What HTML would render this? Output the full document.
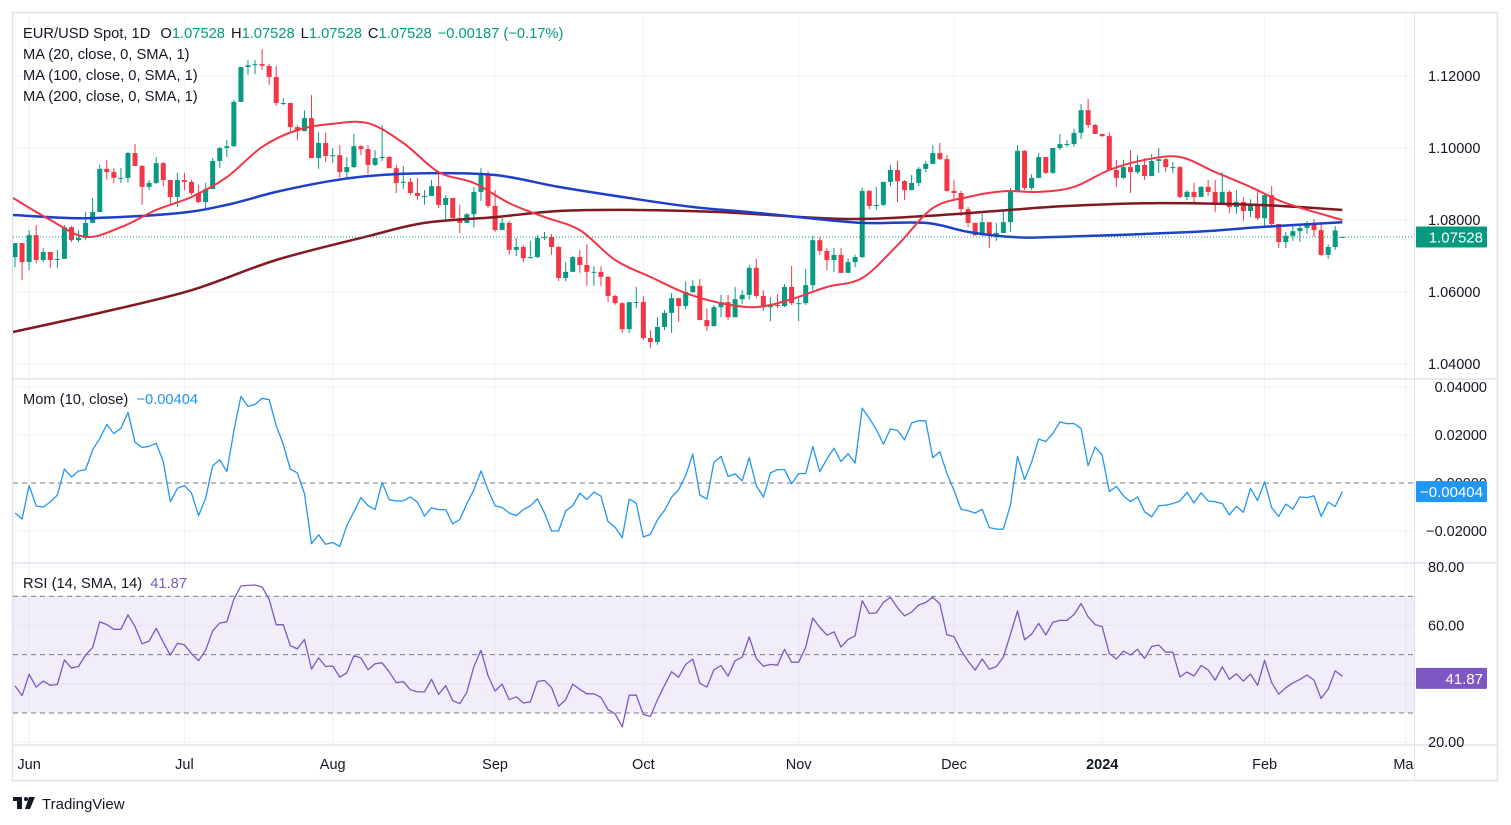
<!DOCTYPE html>
<html><head><meta charset="utf-8"><title>EUR/USD</title>
<style>
html,body{margin:0;padding:0;background:#fff;}
svg{display:block;font-family:"Liberation Sans",sans-serif;}
</style></head>
<body>
<svg id="chart" width="1511" height="825" viewBox="0 0 1511 825" xmlns="http://www.w3.org/2000/svg">
<defs>
<clipPath id="plotClip"><rect x="13" y="13" width="1401" height="732"/></clipPath>
<clipPath id="axisClip"><rect x="13" y="745" width="1401" height="35"/></clipPath>
</defs>
<rect x="0" y="0" width="1511" height="825" fill="#ffffff"/>
<rect x="12.5" y="12.5" width="1485" height="768" fill="none" stroke="#e0e3eb" stroke-width="1.5"/>
<g id="grid"></g>
<g id="rsiBand"></g>
<g id="plot" clip-path="url(#plotClip)"></g>
<g id="axes"></g>
<g font-size="14.7">
<text x="23" y="38" fill="#131722">EUR/USD Spot, 1D <tspan dx="6">O</tspan><tspan fill="#089981">1.07528</tspan><tspan dx="6">H</tspan><tspan fill="#089981">1.07528</tspan><tspan dx="6">L</tspan><tspan fill="#089981">1.07528</tspan><tspan dx="6">C</tspan><tspan fill="#089981">1.07528</tspan><tspan dx="6" fill="#089981">−0.00187 (−0.17%)</tspan></text>
<text x="23" y="59" fill="#131722">MA (20, close, 0, SMA, 1)</text>
<text x="23" y="80" fill="#131722">MA (100, close, 0, SMA, 1)</text>
<text x="23" y="101" fill="#131722">MA (200, close, 0, SMA, 1)</text>
<text x="23" y="404" fill="#131722">Mom (10, close) <tspan dx="4" fill="#2196f3">−0.00404</tspan></text>
<text x="23" y="588" fill="#131722">RSI (14, SMA, 14) <tspan dx="4" fill="#7e57c2">41.87</tspan></text>
</g>
<g>
<rect x="13" y="797" width="9" height="4" fill="#131722"/>
<rect x="17" y="797" width="5" height="12" fill="#131722"/>
<circle cx="26" cy="799" r="2" fill="#131722"/>
<polygon points="29,797 35,797 30,809 25,809" fill="#131722"/>
<text x="42" y="809" font-size="15" fill="#131722">TradingView</text>
</g>
</svg>
<script>
// ---------- DATA ----------
const priorCloses = [1.0861,1.0833,1.0768,1.0785,1.0811,1.0768,1.0742,1.0722,1.0719,1.0700];
const rsiSeedGain = 0.0027;
const rsiSeedLoss = 0.0036;
const closes = [
1.0736,1.0683,1.0758,1.0689,1.0711,1.0689,1.0692,1.0780,1.0744,1.0750,
1.0792,1.0822,1.0942,1.0933,1.0917,1.0917,1.0986,1.0950,1.0892,1.0903,
1.0958,1.0911,1.0864,1.0911,1.0906,1.0875,1.0850,1.0886,1.0964,1.1000,
1.1005,1.1128,1.1225,1.1230,1.1233,1.1228,1.1197,1.1125,1.1125,1.1058,
1.1047,1.1083,1.0972,1.1014,1.0978,1.0980,1.0933,1.0947,1.1005,1.0997,
1.0953,1.0972,1.0975,1.0944,1.0903,1.0906,1.0875,1.0867,1.0867,1.0894,
1.0842,1.0861,1.0805,1.0792,1.0816,1.0878,1.0925,1.0839,1.0772,1.0792,
1.0717,1.0725,1.0694,1.0697,1.0750,1.0753,1.0725,1.0639,1.0656,1.0697,
1.0675,1.0656,1.0656,1.0642,1.0589,1.0569,1.0497,1.0572,1.0572,1.0472,
1.0461,1.0503,1.0542,1.0583,1.0561,1.0600,1.0617,1.0522,1.0505,1.0558,
1.0572,1.0530,1.0580,1.0592,1.0667,1.0589,1.0558,1.0564,1.0561,1.0614,
1.0569,1.0569,1.0619,1.0744,1.0714,1.0689,1.0703,1.0653,1.0683,1.0697,
1.0881,1.0839,1.0842,1.0906,1.0939,1.0908,1.0883,1.0903,1.0942,1.0956,
1.0986,1.0969,1.0881,1.0875,1.0830,1.0792,1.0758,1.0794,1.0756,1.0764,
1.0794,1.0878,1.0992,1.0889,1.0917,1.0975,1.0931,1.1000,1.1011,1.1011,
1.1042,1.1105,1.1064,1.1039,1.1033,1.0939,1.0917,1.0947,1.0933,1.0953,
1.0922,1.0964,1.0969,1.0947,1.0947,1.0864,1.0878,1.0864,1.0892,1.0878,
1.0844,1.0878,1.0836,1.0850,1.0825,1.0842,1.0805,1.0869,1.0789,1.0739,
1.0756,1.0769,1.0778,1.0789,1.0772,1.0703,1.0725,1.0771,1.0753];
const highs = [
1.0736,1.0736,1.0772,1.0786,1.0722,1.0711,1.0717,1.0786,1.0783,1.0772,
1.0822,1.0861,1.0953,1.0967,1.0944,1.0944,1.0989,1.1011,1.0953,1.0911,
1.0975,1.0961,1.0911,1.0931,1.0931,1.0911,1.0897,1.0903,1.0972,1.1003,
1.1022,1.1133,1.1225,1.1244,1.1244,1.1275,1.1233,1.1228,1.1139,1.1125,
1.1064,1.1105,1.1147,1.1044,1.1042,1.1000,1.1008,1.0975,1.1039,1.1008,
1.1008,1.0994,1.1064,1.0978,1.0953,1.0950,1.0917,1.0917,1.0883,1.0911,
1.0928,1.0869,1.0839,1.0842,1.0819,1.0892,1.0944,1.0936,1.0883,1.0805,
1.0797,1.0750,1.0730,1.0742,1.0758,1.0767,1.0761,1.0728,1.0683,1.0700,
1.0717,1.0733,1.0672,1.0672,1.0644,1.0592,1.0572,1.0572,1.0614,1.0589,
1.0494,1.0530,1.0550,1.0597,1.0583,1.0630,1.0633,1.0636,1.0555,1.0564,
1.0592,1.0592,1.0614,1.0605,1.0675,1.0692,1.0605,1.0586,1.0594,1.0622,
1.0672,1.0586,1.0664,1.0756,1.0753,1.0722,1.0722,1.0722,1.0694,1.0703,
1.0889,1.0883,1.0892,1.0906,1.0953,1.0964,1.0911,1.0925,1.0947,1.0964,
1.1008,1.1014,1.0980,1.0911,1.0881,1.0836,1.0792,1.0817,1.0794,1.0792,
1.0825,1.0889,1.1008,1.0994,1.0928,1.0986,1.0975,1.1000,1.1039,1.1022,
1.1053,1.1122,1.1136,1.1067,1.1036,1.1044,1.0967,1.0967,1.0994,1.0980,
1.0972,1.0983,1.1000,1.0972,1.0961,1.0950,1.0883,1.0903,1.0894,1.0911,
1.0911,1.0933,1.0883,1.0883,1.0864,1.0858,1.0886,1.0872,1.0894,1.0789,
1.0767,1.0783,1.0786,1.0797,1.0803,1.0794,1.0733,1.0783,1.0753];
const lows = [
1.0669,1.0633,1.0661,1.0680,1.0683,1.0667,1.0667,1.0694,1.0739,1.0739,
1.0744,1.0792,1.0822,1.0911,1.0903,1.0903,1.0903,1.0950,1.0842,1.0883,
1.0900,1.0894,1.0842,1.0836,1.0883,1.0869,1.0847,1.0830,1.0886,1.0944,
1.0975,1.1003,1.1128,1.1203,1.1205,1.1217,1.1175,1.1117,1.1119,1.1047,
1.1022,1.1047,1.0972,1.0942,1.0961,1.0958,1.0917,1.0917,1.0944,1.0980,
1.0928,1.0950,1.0964,1.0944,1.0875,1.0886,1.0869,1.0855,1.0842,1.0867,
1.0833,1.0800,1.0805,1.0764,1.0792,1.0780,1.0853,1.0833,1.0767,1.0772,
1.0703,1.0700,1.0683,1.0694,1.0694,1.0744,1.0703,1.0630,1.0630,1.0656,
1.0653,1.0617,1.0617,1.0617,1.0572,1.0564,1.0486,1.0486,1.0555,1.0467,
1.0444,1.0453,1.0494,1.0486,1.0517,1.0553,1.0597,1.0522,1.0492,1.0505,
1.0530,1.0522,1.0530,1.0567,1.0578,1.0583,1.0547,1.0519,1.0555,1.0558,
1.0564,1.0519,1.0564,1.0605,1.0703,1.0661,1.0656,1.0656,1.0656,1.0669,
1.0694,1.0830,1.0828,1.0839,1.0894,1.0850,1.0855,1.0883,1.0894,1.0933,
1.0956,1.0967,1.0878,1.0853,1.0811,1.0780,1.0756,1.0756,1.0722,1.0742,
1.0764,1.0767,1.0878,1.0883,1.0883,1.0917,1.0928,1.0928,1.0994,1.1003,
1.1003,1.1025,1.1055,1.1039,1.1031,1.0936,1.0892,1.0914,1.0875,1.0928,
1.0911,1.0922,1.0931,1.0933,1.0931,1.0861,1.0855,1.0847,1.0864,1.0867,
1.0822,1.0842,1.0819,1.0817,1.0797,1.0808,1.0800,1.0780,1.0778,1.0722,
1.0722,1.0742,1.0739,1.0761,1.0753,1.0700,1.0692,1.0717,1.0753];
const firstOpen = 1.0697;
const lastOpen = 1.0753;
const lastPrice = 1.07528;

const ma20Idx = [0,5,10,15,20,25,30,35,40,45,50,55,60,65,70,75,80,85,90,95,100,105,110,115,120,125,130,135,140,145,150,155,160,165,170,175,180,188];
const ma20Val = [1.0861,1.0800,1.0753,1.0780,1.0828,1.0864,1.0919,1.1003,1.1050,1.1067,1.1069,1.1014,1.0933,1.0903,1.0847,1.0808,1.0772,1.0689,1.0642,1.0597,1.0569,1.0558,1.0580,1.0614,1.0639,1.0730,1.0833,1.0864,1.0880,1.0878,1.0892,1.0939,1.0967,1.0975,1.0933,1.0892,1.0847,1.0800];
const ma100Idx = [0,10,23,30,37,44,50,58,68,77,87,96,104,111,120,129,135,141,148,167,176,188];
const ma100Val = [1.0814,1.0805,1.0819,1.0842,1.0878,1.0906,1.0922,1.0930,1.0925,1.0892,1.0861,1.0836,1.0822,1.0808,1.0792,1.0792,1.0767,1.0753,1.0753,1.0767,1.0780,1.0794];
const ma200Idx = [0,12,25,37,50,58,68,77,87,100,117,129,141,149,162,176,188];
const ma200Val = [1.0489,1.0542,1.0605,1.0689,1.0755,1.0792,1.0808,1.0825,1.0828,1.0822,1.0803,1.0811,1.0828,1.0839,1.0847,1.0842,1.0828];

const monthLabels = ["Jun","Jul","Aug","Sep","Oct","Nov","Dec","2024","Feb","Mar"];
const monthBarIdx = [2,24,45,68,89,111,133,154,177,197];
const priceTicks = [1.04,1.06,1.08,1.10,1.12];
const priceTickLabels = ["1.04000","1.06000","1.08000","1.10000","1.12000"];
const momTicks = [0.04,0.02,0,-0.02];
const momTickLabels = ["0.04000","0.02000","0.00000","−0.02000"];
const rsiTicks = [80,60,20];
const rsiTickLabels = ["80.00","60.00","20.00"];
const rsiGrid = [80,60,40,20];
const rsiBands = [70,50,30];

// ---------- SCALES ----------
const NS = "http://www.w3.org/2000/svg";
const X0 = 15, STEP = 7.06;
function xAt(i){ return X0 + i*STEP; }
function yPrice(p){ return 76 + (1.12 - p)*3600; }
function yMom(m){ return 483 - m*2400; }
function yRsi(r){ return 713 - (r-30)*2.92; }
function mk(tag, attrs, parent){
  const e = document.createElementNS(NS, tag);
  for (const k in attrs) e.setAttribute(k, attrs[k]);
  parent.appendChild(e);
  return e;
}
const grid = document.getElementById('grid');
const plot = document.getElementById('plot');
const axes = document.getElementById('axes');
const band = document.getElementById('rsiBand');

// ---------- GRID ----------
monthBarIdx.forEach((bi,k)=>{
  const x = xAt(bi);
  if (x < 1414) {
    const l = mk('line',{x1:x,x2:x,y1:13,y2:745,stroke:'#f0f3fa','stroke-width':1},grid);
    
    
  }
});
priceTicks.forEach(p=>{
  const l = mk('line',{x1:13,x2:1414,y1:yPrice(p),y2:yPrice(p),stroke:'#f0f3fa','stroke-width':1},grid);
  
  
});
[0.04,0.02,-0.02].forEach(m=>{
  const l = mk('line',{x1:13,x2:1414,y1:yMom(m),y2:yMom(m),stroke:'#f0f3fa','stroke-width':1},grid);
  
  
});
rsiGrid.forEach(r=>{
  const l = mk('line',{x1:13,x2:1414,y1:yRsi(r),y2:yRsi(r),stroke:'#f0f3fa','stroke-width':1},grid);
  
  
});
[379,563,745].forEach(y=>{
  const l = mk('line',{x1:13,x2:1497,y1:y,y2:y,stroke:'#e0e3eb','stroke-width':1.5},grid);
  
  
});
const vs = mk('line',{x1:1414.5,x2:1414.5,y1:13,y2:780,stroke:'#e0e3eb','stroke-width':1},grid);



const bandRect = mk('rect',{x:13,y:yRsi(70),width:1401,height:yRsi(30)-yRsi(70),fill:'#7e57c2','fill-opacity':0.1},band);


rsiBands.forEach(r=>{
  const l = mk('line',{x1:13,x2:1414,y1:yRsi(r),y2:yRsi(r),stroke:'#787b86','stroke-width':1,'stroke-dasharray':'5,4'},band);
  
  
});
const zl = mk('line',{x1:13,x2:1414,y1:yMom(0),y2:yMom(0),stroke:'#787b86','stroke-width':1,'stroke-dasharray':'5,4'},band);



// ---------- CANDLES ----------
const opens = closes.map((c,i)=> i===0 ? firstOpen : closes[i-1]);
opens[closes.length-1] = lastOpen;
const candleG = mk('g',{},plot);


closes.forEach((c,i)=>{
  const o = opens[i];
  const up = c >= o;
  const col = up ? '#089981' : '#f23645';
  const x = xAt(i);
  const hi = Math.max(highs[i], o, c), lo = Math.min(lows[i], o, c);
  const g = mk('g',{},candleG);
  
  
  mk('line',{x1:x,x2:x,y1:yPrice(hi),y2:yPrice(lo),stroke:col,'stroke-width':1},g);
  const yt = yPrice(Math.max(o,c)), yb = yPrice(Math.min(o,c));
  mk('rect',{x:x-2.5,y:yt,width:5,height:Math.max(1,yb-yt),fill:col},g);
});

// ---------- MAs ----------
function smoothPath(pts){
  let d = 'M'+pts[0][0].toFixed(1)+','+pts[0][1].toFixed(1);
  for (let i=0;i<pts.length-1;i++){
    const p0 = pts[i-1]||pts[i], p1=pts[i], p2=pts[i+1], p3=pts[i+2]||p2;
    const c1x = p1[0]+(p2[0]-p0[0])/6, c1y = p1[1]+(p2[1]-p0[1])/6;
    const c2x = p2[0]-(p3[0]-p1[0])/6, c2y = p2[1]-(p3[1]-p1[1])/6;
    d += ' C'+c1x.toFixed(1)+','+c1y.toFixed(1)+' '+c2x.toFixed(1)+','+c2y.toFixed(1)+' '+p2[0].toFixed(1)+','+p2[1].toFixed(1);
  }
  return d;
}
function maLine(idx, val, color, w, name){
  const pts = idx.map((bi,k)=>[xAt(bi), yPrice(val[k])]);
  pts[0][0] = 13;
  const p = mk('path',{d:smoothPath(pts),fill:'none',stroke:color,'stroke-width':w,'stroke-linejoin':'round'},plot);
  
  
}
maLine(ma200Idx, ma200Val, '#801922', 2.5, 'ma200-line');
maLine(ma100Idx, ma100Val, '#1e40c8', 2.5, 'ma100-line');
maLine(ma20Idx, ma20Val, '#f23645', 2, 'ma20-line');

const cpl = mk('line',{x1:13,x2:1414,y1:yPrice(lastPrice),y2:yPrice(lastPrice),stroke:'#089981','stroke-width':1,'stroke-dasharray':'1,2'},plot);



// ---------- MOMENTUM ----------
const ext = priorCloses.concat(closes);
const P = priorCloses.length;
const mom = closes.map((c,i)=> c - ext[i+P-10]);
const momPts = mom.map((m,i)=> (i===0?'M':'L') + xAt(i).toFixed(1)+','+yMom(m).toFixed(1)).join(' ');
const momPath = mk('path',{d:momPts,fill:'none',stroke:'#2196f3','stroke-width':1.3,'stroke-linejoin':'round'},plot);



// ---------- RSI (Wilder, seeded) ----------
const rsi = [];
let ag=rsiSeedGain, al=rsiSeedLoss;
for (let k=1;k<ext.length;k++){
  const ch = ext[k]-ext[k-1];
  const g = Math.max(ch,0), l = Math.max(-ch,0);
  ag = (ag*13+g)/14; al = (al*13+l)/14;
  if (k>=P) rsi.push(al===0?100:100-100/(1+ag/al));
}
const rsiPts = rsi.map((r,i)=> (i===0?'M':'L') + xAt(i).toFixed(1)+','+yRsi(r).toFixed(1)).join(' ');
const rsiPath = mk('path',{d:rsiPts,fill:'none',stroke:'#7e57c2','stroke-width':1.3,'stroke-linejoin':'round'},plot);



// ---------- AXES ----------
const tAx = mk('g',{'clip-path':'url(#axisClip)'},axes);
monthLabels.forEach((lab,k)=>{
  const t = mk('text',{x:xAt(monthBarIdx[k]),y:769,'text-anchor':'middle','font-size':14.5,fill:'#131722','font-weight':lab==='2024'?'bold':'normal'},tAx);
  t.textContent = lab;
  
  
});
priceTicks.forEach((p,k)=>{
  const t = mk('text',{x:1428,y:yPrice(p)+5,'font-size':14.5,fill:'#131722'},axes);
  t.textContent = priceTickLabels[k];
  
  
});
momTicks.forEach((m,k)=>{
  const t = mk('text',{x:1487,y:yMom(m)+5,'font-size':14.5,fill:'#131722','text-anchor':'end'},axes);
  t.textContent = momTickLabels[k];
  
  
});
rsiTicks.forEach((r,k)=>{
  const t = mk('text',{x:1428,y:yRsi(r)+5,'font-size':14.5,fill:'#131722'},axes);
  t.textContent = rsiTickLabels[k];
  
  
});
function tag(y, text, color, x1, name){
  const g = mk('g',{},axes);
  
  
  mk('rect',{x:x1,y:y-10.5,width:1487-x1,height:21,fill:color,rx:1},g);
  const t = mk('text',{x:1483,y:y+5.5,'font-size':15,fill:'#ffffff','text-anchor':'end'},g);
  t.textContent = text;
}
tag(yPrice(lastPrice), lastPrice.toFixed(5), '#089981', 1416, 'last-price-tag');
tag(yMom(mom[mom.length-1]), '−0.00404', '#2196f3', 1416, 'momentum-value-tag');
tag(yRsi(41.87), '41.87', '#7e57c2', 1416, 'rsi-value-tag');
</script>
</body></html>
